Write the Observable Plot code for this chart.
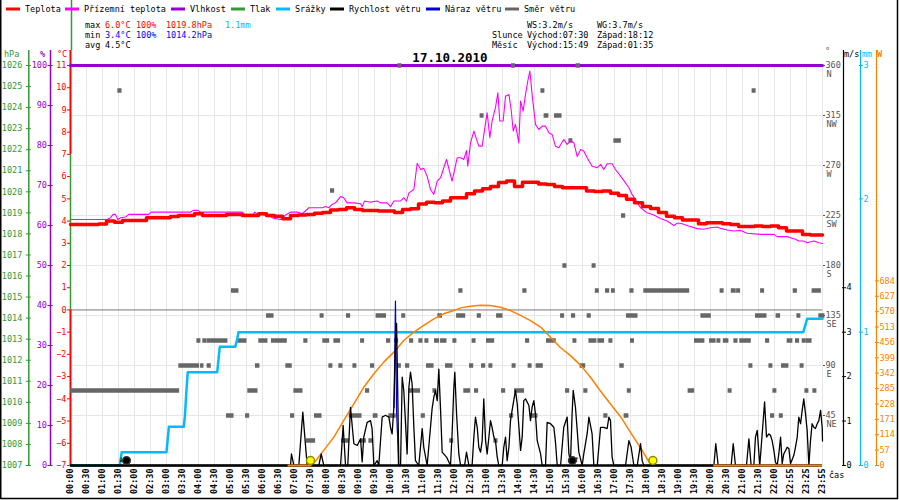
<!DOCTYPE html>
<html><head><meta charset="utf-8">
<script src="https://cdn.jsdelivr.net/npm/d3@7"></script>
<script src="https://cdn.jsdelivr.net/npm/@observablehq/plot@0.6"></script>
<style>body{margin:0;background:#fff}#chart svg{display:block}</style>
</head><body><div id="chart"></div>
<script>
// ---------- tick labels (x axis is sample index, one label per slot) ----------
const timeLabels = ["00:00","00:30","01:00","01:30","02:00","02:30","03:00","03:30","04:00","04:30","05:00","05:30",
"06:00","06:30","07:00","07:30","08:00","08:30","09:00","09:30","10:00","10:30","11:00","11:30","12:00","12:30",
"13:00","13:30","14:00","14:30","15:00","15:30","16:00","16:30","17:00","17:30","18:00","18:30","19:00","19:30",
"20:00","20:30","21:00","21:30","22:00","22:55","23:25","23:55"];
const hPaTicks = [1007,1008,1009,1010,1011,1012,1013,1014,1015,1016,1017,1018,1019,1020,1021,1022,1023,1024,1025,1026];
const pctTicks = [0,10,20,30,40,50,60,70,80,90,100];
const tempTicks = [-7,-6,-5,-4,-3,-2,-1,0,1,2,3,4,5,6,7,8,9,10,11];
const dirTicks = [45,90,135,180,225,270,315,360];
const dirNames = ["NE","E","SE","S","SW","W","NW","N"];
const msTicks = [0,1,2,3,4];
const mmTicks = [0,1,2,3];
const wTicks = [0,57,114,171,228,285,342,399,456,513,570,627,684];

// ---------- series ----------
// Teplota (°C), one value every half slot (index 0 .. 47)
const tempC = [3.85,3.85,3.85,3.85,3.87,4.0,3.95,4.03,4.03,4.03,
4.15,4.15,4.15,4.2,4.25,4.25,4.33,4.25,4.25,4.25,
4.3,4.3,4.25,4.25,4.33,4.25,4.22,4.1,4.25,4.27,
4.3,4.35,4.38,4.5,4.52,4.6,4.52,4.48,4.47,4.45,
4.45,4.38,4.52,4.55,4.77,4.85,4.82,4.9,5.05,5.05,
5.23,5.35,5.45,5.55,5.73,5.8,5.55,5.75,5.75,5.67,
5.65,5.55,5.5,5.5,5.5,5.35,5.33,5.35,5.25,5.15,
4.98,4.82,4.65,4.57,4.38,4.22,4.15,4.05,4.05,3.88,
3.92,3.92,3.88,3.85,3.75,3.75,3.78,3.75,3.78,3.7,
3.55,3.55,3.4,3.37,3.37];
// Přízemní teplota (°C): [slot, value]
const groundTemp = [[0,4.07],[2.29,4.07],[2.5,4.15],[2.67,4.3],[2.81,4.3],[2.96,4.07],[3.13,4.15],[3.44,4.18],[3.65,4.3],[4.9,4.3],[5.04,4.4],[7.5,4.4],[7.67,4.48],[7.96,4.48],[8.13,4.4],[10.73,4.4],[10.88,4.3],[11.42,4.3],[11.52,4.4],[11.67,4.3],[12.29,4.27],[12.71,4.12],[13.13,4.07],[13.44,4.27],[13.75,4.4],[14.21,4.4],[14.48,4.33],[14.9,4.6],[15.73,4.6],[15.94,4.66],[16.15,4.6],[16.35,4.75],[16.56,4.82],[16.88,5.1],[17.08,5.05],[17.29,4.82],[17.71,4.82],[18.13,4.78],[18.23,4.65],[18.38,4.9],[18.75,4.85],[19.17,4.9],[19.38,4.82],[19.79,4.82],[20.0,4.65],[20.21,4.9],[20.63,4.9],[20.83,5.05],[21.0,4.9],[21.15,5.27],[21.46,5.42],[21.67,6.6],[21.88,6.32],[22.08,6.37],[22.29,6.02],[22.5,5.42],[22.71,5.2],[22.92,5.8],[23.13,5.95],[23.5,6.77],[23.85,5.8],[24.17,6.85],[24.38,6.85],[24.58,6.77],[24.75,7.17],[24.83,6.47],[25.0,7.52],[25.21,8.05],[25.52,7.37],[25.73,7.37],[25.94,8.42],[26.04,8.87],[26.21,7.75],[26.35,8.5],[26.56,9.1],[26.71,9.77],[26.83,8.5],[27.04,8.5],[27.19,9.62],[27.4,9.7],[27.54,9.02],[27.67,8.05],[27.81,8.35],[27.92,7.9],[28.02,7.52],[28.13,9.4],[28.29,8.95],[28.44,9.7],[28.58,10.3],[28.71,10.75],[28.85,9.7],[29.06,8.35],[29.27,8.12],[29.48,8.27],[29.69,8.27],[29.9,7.97],[30.1,7.9],[30.31,7.37],[30.52,7.3],[30.83,7.67],[31.04,7.45],[31.25,7.6],[31.46,7.52],[31.67,6.9],[31.88,7.22],[32.08,7.15],[32.29,6.85],[32.6,6.47],[32.92,6.4],[33.13,6.55],[33.33,6.32],[33.54,6.58],[33.85,6.58],[34.06,6.32],[34.38,6.02],[34.69,5.72],[34.9,5.5],[35.1,5.2],[35.42,4.82],[35.63,4.6],[36.04,4.37],[36.46,4.27],[36.88,4.12],[37.29,4.0],[37.71,3.8],[37.92,3.9],[38.13,3.9],[38.54,3.8],[39.17,3.66],[39.58,3.63],[40.0,3.7],[40.42,3.73],[40.63,3.67],[41.04,3.6],[41.46,3.55],[41.88,3.58],[42.29,3.45],[43.13,3.4],[43.96,3.4],[44.17,3.3],[44.79,3.3],[45.0,3.25],[45.31,3.18],[45.52,3.1],[45.83,3.1],[46.04,3.02],[46.46,3.1],[46.77,3.02],[47.0,2.99]];
// Vlhkost (%): constant all day
const humidity = [[0,100],[47,100]];
// Srážky cumulative (mm)
const rain = [[0,0],[3.08,0],[3.2,0.1],[6.0,0.1],[6.15,0.29],[7.08,0.29],[7.15,0.37],[7.25,0.57],[7.33,0.7],[9.17,0.7],[9.33,0.89],[10.3,0.89],[10.42,0.95],[10.5,1.0],[45.8,1.0],[46.04,1.1],[47,1.1]];
// Rychlost větru (m/s)
const wind = [[0,0],[13.75,0],[13.81,0.26],[13.96,0],[14.27,0],[14.52,1.2],[14.79,0],[15.52,0],[15.67,0.26],[15.83,0],[16.88,0],[17.04,0.9],[17.19,0],[17.33,0],[17.5,1.31],[17.71,0.49],[17.92,0.45],[18.13,0.6],[18.23,0.08],[18.33,0.64],[18.54,0.97],[18.75,1.01],[18.85,0.83],[18.96,0],[19.17,0.11],[19.27,0],[19.48,1.09],[19.69,1.13],[19.9,1.09],[20.0,0.86],[20.1,0.71],[20.21,1.31],[20.31,2.66],[20.38,3.2],[20.44,1.91],[20.52,0],[20.63,0],[20.73,1.99],[20.83,1.69],[21.04,0.26],[21.15,1.76],[21.25,2.1],[21.35,1.84],[21.46,0.86],[21.56,0.11],[21.77,0],[21.98,0.83],[22.08,0.41],[22.29,0],[22.5,0.86],[22.6,1.28],[22.71,1.54],[22.81,1.69],[22.92,1.46],[23.02,2.17],[23.13,1.24],[23.23,0.3],[23.5,0.19],[23.75,0],[23.85,0.71],[23.96,1.76],[24.02,2.1],[24.13,1.16],[24.27,0.26],[24.38,0],[24.63,0],[24.75,0.3],[24.9,0],[25.1,0],[25.21,0.64],[25.31,1.09],[25.42,0.86],[25.52,0.41],[25.63,0.3],[25.73,0.56],[25.83,1.5],[25.94,0.56],[26.04,0.26],[26.15,0.64],[26.25,1.01],[26.35,0.86],[26.46,0.64],[26.56,0.56],[26.67,0.19],[26.77,0],[26.98,0],[27.08,0.41],[27.19,0.64],[27.29,0.11],[27.4,0.41],[27.5,1.01],[27.6,1.24],[27.81,1.69],[27.92,1.39],[28.13,0.34],[28.23,0.64],[28.33,1.46],[28.44,1.5],[28.65,1.35],[28.75,1.01],[28.85,1.31],[28.96,1.46],[29.06,1.16],[29.17,0.56],[29.38,0.26],[29.48,0],[29.69,0],[29.79,0.97],[30.0,0.94],[30.21,0.86],[30.31,0.53],[30.42,0],[30.63,0],[30.83,0.86],[31.04,1.09],[31.15,0.26],[31.25,0.08],[31.35,1.16],[31.42,1.69],[31.56,1.31],[31.67,0.79],[31.77,0.3],[31.98,0],[32.08,0.26],[32.29,0.71],[32.4,1.09],[32.6,0.71],[32.71,0],[32.92,0],[33.13,0.86],[33.33,0.86],[33.54,0.83],[33.65,1.09],[33.75,1.01],[33.85,0.19],[33.96,0],[34.69,0],[34.9,0.56],[35.04,0.41],[35.21,0],[35.42,0],[35.63,0.49],[35.73,0.11],[35.83,0],[40.21,0],[40.33,0.49],[40.48,0],[41.29,0],[41.42,0.49],[41.56,0],[42.25,0],[42.4,0.6],[42.54,0],[42.71,0],[42.81,0.64],[42.92,0.79],[43.08,0],[43.23,0.71],[43.38,1.43],[43.5,0.64],[43.65,0.71],[43.75,0.68],[43.85,0.56],[43.96,0.34],[44.06,0.08],[44.17,0],[44.27,0.26],[44.38,0.64],[44.48,0.04],[44.58,0.26],[44.79,0.41],[44.9,0.38],[45.0,0.04],[45.21,0.23],[45.31,0.41],[45.42,0.64],[45.52,1.09],[45.63,0.94],[45.73,1.24],[45.83,1.5],[45.94,1.16],[46.04,0.79],[46.15,0],[46.25,0.56],[46.35,0.94],[46.46,0.86],[46.56,0.83],[46.67,0.94],[46.77,1.01],[46.88,1.24],[46.98,0.86],[47.0,0.55]];
// Náraz větru (m/s)
const gust = [[20.22,1.3],[20.31,3.7],[20.38,1.2],[20.45,0.6],[20.5,0]];
// Sluneční záření (W/m²)
const solar = [[15.1,0],[15.83,56],[16.46,105],[17.08,167],[17.71,228],[18.33,290],[18.96,340],[19.58,383],[20.21,420],[20.83,463],[21.46,494],[22.08,519],[22.71,543],[23.33,562],[23.96,574],[24.38,584],[25.0,590],[25.63,594],[26.25,593],[26.88,586],[27.5,574],[28.13,556],[28.75,537],[29.4,512],[30.0,475],[30.6,438],[31.25,407],[31.9,370],[32.5,327],[33.1,278],[33.75,228],[34.4,179],[35.0,123],[35.6,68],[36.04,25],[36.3,0]];
const solarZero = [[13.6,15.1],[40.2,47]];
// Směr větru: runs [from slot, to slot, degrees]
const windDirRuns = [
[20.46,20.67,360],[27.56,27.77,360],[31.6,31.83,360],
[2.96,3.17,337.5],[29.4,29.6,337.5],[42.6,42.8,337.5],
[25.6,25.8,315],[29.6,29.85,315],[30.25,30.67,315],
[31.15,31.35,292.5],[33.96,34.38,292.5],
[16.25,16.46,247.5],[34.44,34.65,225],
[30.77,30.98,180],[32.6,32.8,180],
[10.06,10.48,157.5],[24.27,24.48,157.5],[28.27,28.48,157.5],[32.8,33.0,157.5],[33.44,33.65,157.5],[33.81,34.0,157.5],[34.96,35.17,157.5],[35.83,38.65,157.5],[40.6,40.8,157.5],[41.3,41.56,157.5],[41.63,41.83,157.5],[43.13,43.33,157.5],[45.17,45.38,157.5],[46.35,46.88,157.5],
[12.25,12.67,135],[15.6,15.8,135],[17.25,17.46,135],[19.1,19.7,135],[20.7,20.9,135],[22.96,23.2,135],[24.13,24.65,135],[25.42,25.63,135],[26.63,26.98,135],[30.63,30.83,135],[31.31,31.52,135],[32.29,32.5,135],[34.75,35.42,135],[39.4,40.0,135],[42.81,43.48,135],[44.1,44.33,135],[45.4,45.6,135],[46.77,47.1,135],
[7.9,8.1,112.5],[8.27,8.48,112.5],[8.54,9.79,112.5],[10.42,10.98,112.5],[11.77,12.29,112.5],[12.56,13.5,112.5],[14.58,14.79,112.5],[15.77,16.15,112.5],[16.46,16.83,112.5],[18.13,18.33,112.5],[19.75,19.96,112.5],[20.25,20.46,112.5],[21.19,21.4,112.5],[21.77,21.98,112.5],[22.15,22.35,112.5],[22.75,23.02,112.5],[23.13,23.48,112.5],[23.9,24.1,112.5],[25.1,25.3,112.5],[26.0,26.46,112.5],[28.44,28.65,112.5],[29.75,30.31,112.5],[31.4,31.6,112.5],[32.4,32.85,112.5],[32.96,33.33,112.5],[33.65,33.85,112.5],[35.0,35.2,112.5],[39.0,39.6,112.5],[39.94,40.3,112.5],[40.4,40.6,112.5],[40.8,41.1,112.5],[41.46,41.67,112.5],[41.83,42.5,112.5],[43.44,43.65,112.5],[44.79,45.1,112.5],[45.31,45.52,112.5],[45.73,45.94,112.5],[46.0,46.3,112.5],
[6.77,8.02,90],[8.13,8.29,90],[8.54,8.75,90],[11.56,11.79,90],[13.46,13.81,90],[16.15,16.35,90],[16.77,16.98,90],[17.65,17.85,90],[18.75,18.96,90],[20.42,20.63,90],[20.94,21.15,90],[22.25,22.67,90],[23.44,23.85,90],[24.94,25.15,90],[25.69,25.9,90],[26.15,26.35,90],[27.6,27.8,90],[28.6,28.8,90],[29.1,29.5,90],[31.85,32.15,90],[34.33,34.56,90],[42.4,42.6,90],[43.65,43.85,90],[44.44,44.85,90],[45.6,45.8,90],
[0,6.77,67.5],[11.08,11.67,67.5],[13.96,14.48,67.5],[18.44,18.65,67.5],[21.15,21.83,67.5],[22.65,22.85,67.5],[24.58,24.96,67.5],[25.25,25.46,67.5],[26.94,27.15,67.5],[27.75,28.33,67.5],[30.94,31.15,67.5],[32.08,32.29,67.5],[34.8,35.0,67.5],[38.6,38.96,67.5],[41.1,41.3,67.5],[43.9,44.1,67.5],[45.9,46.1,67.5],[46.4,46.6,67.5],
[9.75,10.17,45],[10.94,11.15,45],[13.75,13.96,45],[15.25,15.67,45],[17.42,18.17,45],[18.92,19.17,45],[19.9,20.31,45],[21.92,22.13,45],[27.44,27.65,45],[28.75,29.17,45],[33.33,33.54,45],[34.6,34.85,45],[43.75,43.96,45],[44.3,44.5,45],
[14.75,15.27,22.5],[16.94,17.4,22.5],[18.13,18.44,22.5],[18.65,18.85,22.5],[23.7,23.9,22.5],[26.46,26.67,22.5]];
const sunMarks = ["07:30","18:12"];
const moonMarks = ["01:45","15:41"];
const moonArrows = [["01:35","↓"],["15:49","↑"]];

// ---------- unit conversions onto the shared °C axis ----------
const T_MIN = -7, T_MAX = 11, SPAN = T_MAX - T_MIN;
const hpaT = p => T_MIN + (p - 1007) * SPAN / 19;
const pctT = h => T_MIN + h * SPAN / 100;
const dirT = d => T_MIN + d * SPAN / 360;
const msT = v => T_MIN + v * SPAN / 9;
const mmT = m => T_MIN + m * SPAN / 3;
const wT = w => T_MIN + w * SPAN / 1482;
function slot(t){const [h,m]=t.split(":").map(Number);const mm=h*60+m;
  return mm<=1320?mm/30:mm<=1375?44+(mm-1320)/55:45+(mm-1375)/30;}

const pxT = 400 / SPAN;              // px per °C
const topAxis = T_MAX + 15 / pxT;    // axis lines reach into the header
const imgTop = T_MAX + 65 / pxT;

const RED="#ff0000", MAG="#ff00ff", PUR="#9400d3", GRN="#339933", BLU="#00bbff", ORA="#ff8000", GRY="#666666";
const tempData = tempC.map((v,i)=>({x:i*0.5,v}));

const svgNode = Plot.plot({
  width: 900, height: 500,
  marginTop: 65, marginBottom: 35, marginLeft: 70, marginRight: 78,
  x: {domain: [0, 47], label: null},
  y: {domain: [T_MIN, T_MAX], label: null},
  style: {fontFamily: "DejaVu Sans Mono", fontSize: "8.5px", background: "white"},
  marks: [
    // grid
    Plot.ruleX(d3.range(0, 48), {stroke: "#e6e6e6"}),
    Plot.ruleY([0,45,90,135,180,225,270,315].map(dirT), {stroke: "#e6e6e6"}),
    Plot.ruleY([0], {stroke: "#777"}),
    // left-edge axis lines
    Plot.ruleX([0], {y1: topAxis, y2: imgTop, stroke: GRN, strokeWidth: 1.5, dx: 1}),
    Plot.ruleX([0], {y1: 0, y2: 7, stroke: GRN, strokeWidth: 1.5}),
    Plot.ruleX([0], {y1: 7, y2: topAxis, stroke: RED, strokeWidth: 2}),
    Plot.ruleX([0], {y1: T_MIN, y2: 0, stroke: RED, strokeWidth: 2}),
    Plot.ruleX([0], {y1: T_MIN, y2: topAxis, stroke: PUR, strokeWidth: 1.5, dx: -20}),
    Plot.ruleX([0], {y1: T_MIN, y2: topAxis, stroke: GRN, strokeWidth: 1.5, dx: -41.7}),
    // right axis lines
    Plot.ruleX([47], {y1: T_MIN, y2: topAxis, stroke: "black", strokeWidth: 1.2, dx: 21}),
    Plot.ruleX([47], {y1: T_MIN, y2: topAxis, stroke: BLU, strokeWidth: 1.2, dx: 38}),
    Plot.ruleX([47], {y1: T_MIN, y2: topAxis, stroke: ORA, strokeWidth: 1.2, dx: 54}),
    // axes
    Plot.axisY(tempTicks, {anchor: "left", tickSize: 3, tickPadding: 1, color: RED, label: null}),
    Plot.axisY(pctTicks.map(pctT), {anchor: "left", tickSize: 5, tickPadding: 1, dx: -17.5, color: PUR, label: null,
      tickFormat: t => String(Math.round((t - T_MIN) * 100 / SPAN))}),
    Plot.axisY(hPaTicks.map(hpaT), {anchor: "left", tickSize: 5, tickPadding: 4, dx: -39.2, color: GRN, label: null,
      tickFormat: t => String(Math.round(1007 + (t - T_MIN) * 19 / SPAN))}),
    Plot.axisY(dirTicks.map(dirT), {anchor: "right", tickSize: 2, tickPadding: 1, color: "#555", label: null,
      tickFormat: t => String(Math.round((t - T_MIN) * 360 / SPAN))}),
    Plot.axisY(dirTicks.map(dirT), {anchor: "right", tickSize: 0, tickPadding: 4, dy: 9, color: "#555", label: null,
      tickFormat: t => dirNames[dirTicks.indexOf(Math.round((t - T_MIN) * 360 / SPAN))]}),
    Plot.axisY(msTicks.map(msT), {anchor: "right", tickSize: 4, tickPadding: 1, dx: 19, color: "black", label: null,
      tickFormat: t => String(Math.round((t - T_MIN) * 9 / SPAN))}),
    Plot.axisY(mmTicks.map(mmT), {anchor: "right", tickSize: 4, tickPadding: 1, dx: 36, color: BLU, label: null,
      tickFormat: t => String(Math.round((t - T_MIN) * 3 / SPAN))}),
    Plot.axisY(wTicks.map(wT), {anchor: "right", tickSize: 4, tickPadding: 1, dx: 52, color: ORA, label: null,
      tickFormat: t => String(Math.round((t - T_MIN) * 1482 / SPAN))}),
    Plot.axisX(d3.range(0, 48), {tickSize: 0, tickPadding: 3, tickRotate: -90, fontWeight: "bold", fontSize: 8.5, label: null,
      tickFormat: i => timeLabels[i]}),
    // humidity
    Plot.line(humidity, {x: d => d[0], y: d => pctT(d[1]), stroke: PUR, strokeWidth: 3}),
    // wind direction squares
    Plot.ruleY(windDirRuns, {x1: d => d[0], x2: d => d[1] + 0.05, y: d => dirT(d[2]), stroke: GRY, strokeWidth: 4.5}),
    // ground temp and temperature
    Plot.line(groundTemp, {x: d => d[0], y: d => d[1], stroke: MAG, strokeWidth: 1.1}),
    Plot.line(tempData, {x: "x", y: "v", stroke: RED, strokeWidth: 3.5, curve: "step"}),
    // rain
    Plot.line(rain, {x: d => d[0], y: d => mmT(d[1]), stroke: BLU, strokeWidth: 2.5}),
    // solar
    Plot.line(solar, {x: d => d[0], y: d => wT(d[1]), stroke: ORA, strokeWidth: 1.5}),
    // wind
    Plot.ruleY([T_MIN], {stroke: "black", strokeWidth: 2.5}),
    Plot.line(gust, {x: d => d[0], y: d => msT(d[1]), stroke: "#0000cc", strokeWidth: 1.2}),
    Plot.line(wind, {x: d => d[0], y: d => msT(d[1]), stroke: "black", strokeWidth: 1.3}),
    Plot.ruleY(solarZero, {x1: d => d[0], x2: d => d[1], y: wT(0), stroke: ORA, strokeWidth: 2}),
    // sun and moon
    Plot.text(moonArrows, {x: d => slot(d[0]), y: T_MIN, text: d => d[1], dy: -6, fontSize: 9, fill: "black"}),
    Plot.dot(moonMarks, {x: d => slot(d), y: T_MIN, dy: -5, r: 3.8, fill: "black", stroke: "#333"}),
    Plot.dot(sunMarks, {x: d => slot(d), y: T_MIN, dy: -5, r: 4, fill: "#ffff00", stroke: "#8a8a00"})
  ]
});

// ---------- header / legend texts ----------
const s = d3.select(svgNode);
function txt(x, y, t, color, opt = {}) {
  s.append("text").attr("x", x).attr("y", y).attr("fill", color)
   .attr("font-size", opt.size || 8.5).attr("font-weight", opt.weight || "normal")
   .attr("text-anchor", opt.anchor || "start").text(t);
}
const legend = [["Teplota", RED, 25], ["Přízemní teplota", MAG, 84], ["Vlhkost", PUR, 190], ["Tlak", GRN, 250],
  ["Srážky", BLU, 295], ["Rychlost větru", "black", 349], ["Náraz větru", "#0000cc", 445], ["Směr větru", GRY, 524]];
legend.forEach(([t, c, x]) => {
  s.append("line").attr("x1", x - 19).attr("x2", x - 5).attr("y1", 9).attr("y2", 9).attr("stroke", c).attr("stroke-width", 3);
  txt(x, 12, t, "black");
});
txt(85, 28, "max", "black"); txt(105, 28, "6.0°C", RED); txt(136, 28, "100%", RED); txt(166, 28, "1019.8hPa", RED); txt(225, 28, "1.1mm", BLU);
txt(85, 38, "min", "black"); txt(105, 38, "3.4°C", "#0000ff"); txt(136, 38, "100%", "#0000ff"); txt(166, 38, "1014.2hPa", "#0000ff");
txt(85, 48, "avg", "black"); txt(105, 48, "4.5°C", "black");
txt(527, 28, "WS:3.2m/s", "black"); txt(597, 28, "WG:3.7m/s", "black");
txt(492, 38, "Slunce", "black"); txt(527, 38, "Východ:07:30", "black"); txt(597, 38, "Západ:18:12", "black");
txt(492, 48, "Měsíc", "black"); txt(527, 48, "Východ:15:49", "black"); txt(597, 48, "Západ:01:35", "black");
txt(450, 62, "17.10.2010", "black", {size: 12.5, weight: "bold", anchor: "middle"});
txt(4, 57, "hPa", GRN); txt(40, 57, "%", PUR, {weight: "bold"}); txt(57, 57, "°C", RED);
txt(825, 54, "°", "#555"); txt(844, 57, "m/s", "black"); txt(862, 57, "mm", BLU); txt(877, 57, "W", ORA, {weight: "bold"});
txt(829, 478, "čas", "black");
s.append("path").attr("d", "M0.75,0 V498.5 H897.5 V0").attr("fill", "none").attr("stroke", "black").attr("stroke-width", 1.5);
document.getElementById("chart").appendChild(svgNode);
</script></body></html>
